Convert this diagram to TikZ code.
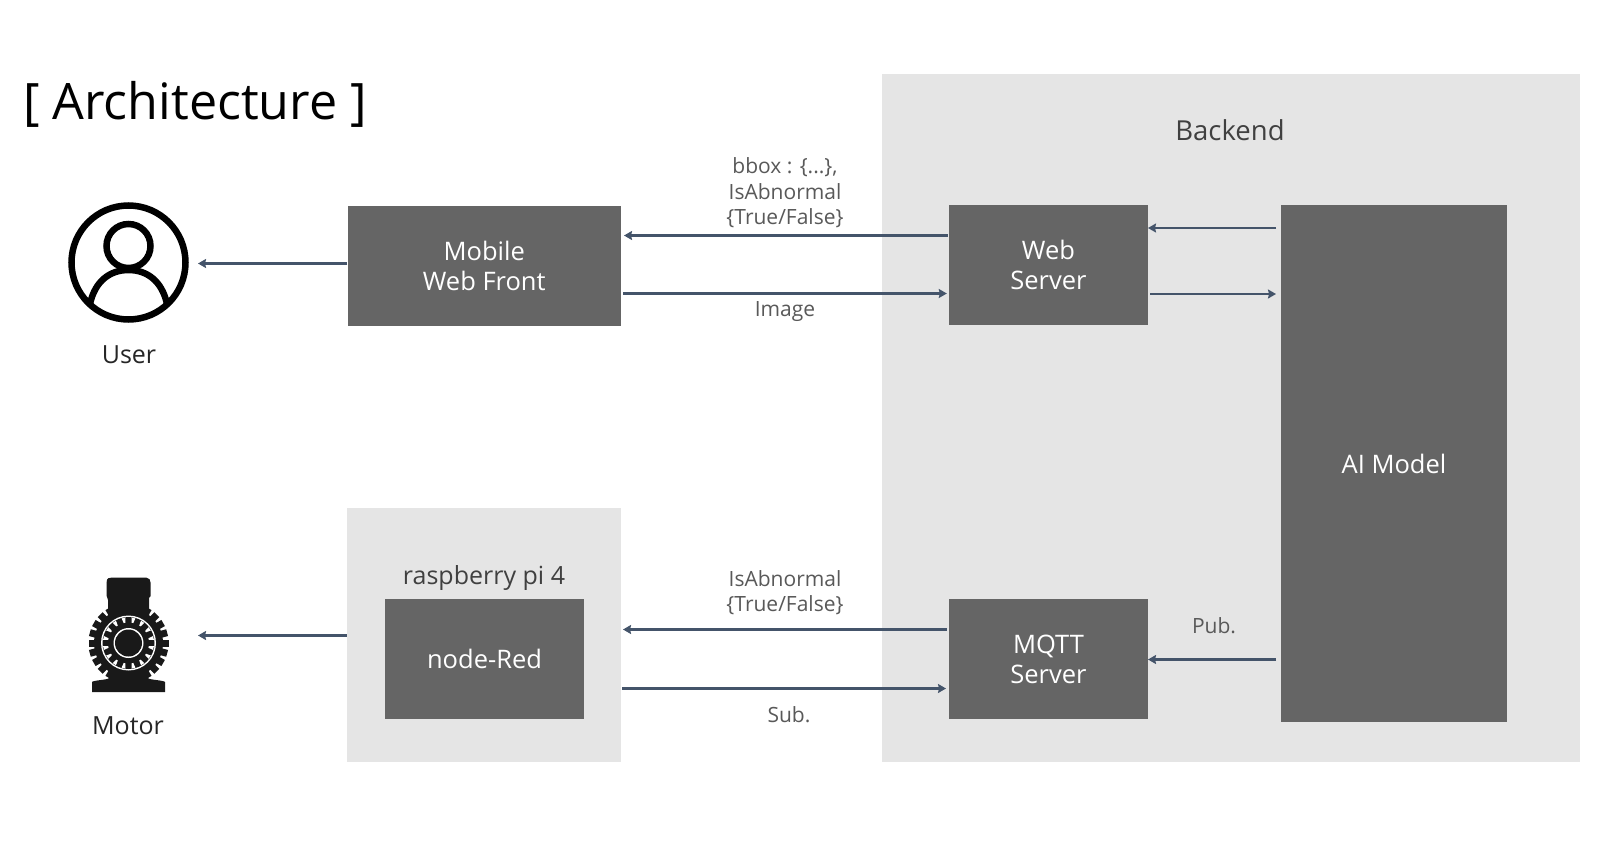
\documentclass[tikz,border=0pt]{standalone}
\usepackage{fontspec}
\setmainfont{Open Sans}
\definecolor{boxdark}{HTML}{656565}
\definecolor{panel}{HTML}{E5E5E5}
\definecolor{arrowc}{HTML}{44546A}
\definecolor{lbl}{HTML}{595959}
\usetikzlibrary{arrows.meta}
\tikzset{
  x=1pt,y=-1pt,
  panelbox/.style={fill=panel,draw=none,anchor=north west,inner sep=0pt},
  darkbox/.style={fill=boxdark,draw=none,inner sep=0pt,text=white,align=center,font=\fontsize{25.5}{30}\selectfont},
  arr/.style={draw=arrowc,line width=2.6pt,-{Stealth[length=8pt,width=9pt,inset=1pt]}},
  lab/.style={text=lbl,align=center,font=\fontsize{21}{25.5}\selectfont,inner sep=0pt},
  captxt/.style={text=black!85,align=center,font=\fontsize{25}{30}\selectfont,inner sep=0pt},
  motorfill/.style={fill=black!90},
}
\newcommand{\darkboxat}[6]{\node[darkbox,minimum width=#4-#3,minimum height=#6-#5] (#1) at ({(#3+#4)/2},{(#5+#6)/2}) {#2};}
\begin{document}
\begin{tikzpicture}
\useasboundingbox (0,0) rectangle (1612,846);
\fill[white] (0,0) rectangle (1612,846);
\node[panelbox,minimum width=698pt,minimum height=688pt] (backend) at (882,74) {};
\node[panelbox,minimum width=274.5pt,minimum height=254pt] (rpi) at (346.5,508) {};
\darkboxat{mobile}{Mobile\\Web Front}{347.5}{621}{206}{326}
\darkboxat{web}{Web\\Server}{949}{1148}{205}{325}
\darkboxat{ai}{AI Model}{1281}{1507}{205}{722}
\darkboxat{mqtt}{MQTT\\Server}{949}{1148}{599}{719}
\darkboxat{nodered}{node-Red}{385}{584}{599}{719}
\node[font=\fontsize{50.2}{58}\selectfont,anchor=center,inner sep=0pt,text=black] (title) at (195,104.5) {[ Architecture ]};
\node[captxt,text=black!75,font=\fontsize{27.5}{32}\selectfont] (backendlabel) at (1230,130) {Backend};
\node[captxt,text=black!75] (rpilabel) at (484,578) {raspberry pi 4};
% user icon
\coordinate (usericon) at (128.5,262.5);
\begin{scope}[line width=6.5pt,draw=black]
\draw (usericon) circle (57pt);
\draw (128.5,246) circle (22pt);
\draw (90,304) .. controls (95,281) and (110,270) .. (128.5,270) .. controls (147,270) and (162,281) .. (167,304);
\end{scope}
\node[captxt] (user) at (129,355) {User};
% motor icon
\coordinate (motorc) at (128.5,643);
\fill[motorfill] (106.7,582) .. controls (106.7,578) and (109,577.5) .. (112,577.5) -- (146,577.5) .. controls (149,577.5) and (150.7,580) .. (150.7,583) -- (150.7,596) -- (149,598) -- (149,620) -- (108,620) -- (108,600) -- (106.7,596) -- cycle;
\fill[motorfill] (109,670) -- (148,670) -- (148,678) .. controls (149,680) and (163,680) .. (165,682) -- (165,692) -- (92,692) -- (92,682) .. controls (94,680) and (108,680) .. (109,678) -- cycle;
\fill[motorfill] (motorc) circle (34.5pt);
\foreach \a in {0,15,...,345}{
  \fill[motorfill,rotate around={\a:(motorc)}] (125,603) rectangle (132,612);
}
\fill[white] (motorc) circle (27.5pt);
\fill[motorfill] (motorc) circle (26pt);
\foreach \a in {11.25,33.75,...,348.75}{
  \fill[white,rotate around={\a:(motorc)}] (126.5,617.5) -- (130.5,617.5) -- (129.3,622.5) -- (127.7,622.5) -- cycle;
}
\fill[white] (motorc) circle (15pt);
\fill[motorfill] (motorc) circle (13.5pt);
\node[captxt] (motor) at (128,726) {Motor};
% connectors
\draw[arr] (mobile.west |- 0,263.5) -- (198,263.5);
\draw[arr] (rpi.west |- 0,635.5) -- (198,635.5);
\draw[arr] ([xshift=-1pt]web.west |- 0,235.5) -- (624,235.5);
\draw[arr] (623,293.5) -- ([xshift=-2pt]web.west |- 0,293.5);
\draw[arr] (1276,228) -- (1148,228);
\draw[arr] (1150,294) -- (1276,294);
\draw[arr] ([xshift=-2pt]mqtt.west |- 0,629.5) -- (623,629.5);
\draw[arr] (622,688.5) -- (946,688.5);
\draw[arr] (1276,659.5) -- (1148,659.5);
\node[lab] (l1) at (785,193) {bbox : \{...\},\\IsAbnormal\\\{True/False\}};
\node[lab] (l2) at (785,311.5) {Image};
\node[lab] (l3) at (785,592.5) {IsAbnormal\\\{True/False\}};
\node[lab] (l4) at (789,715) {Sub.};
\node[lab] (l5) at (1214,625.5) {Pub.};
\end{tikzpicture}
\end{document}
